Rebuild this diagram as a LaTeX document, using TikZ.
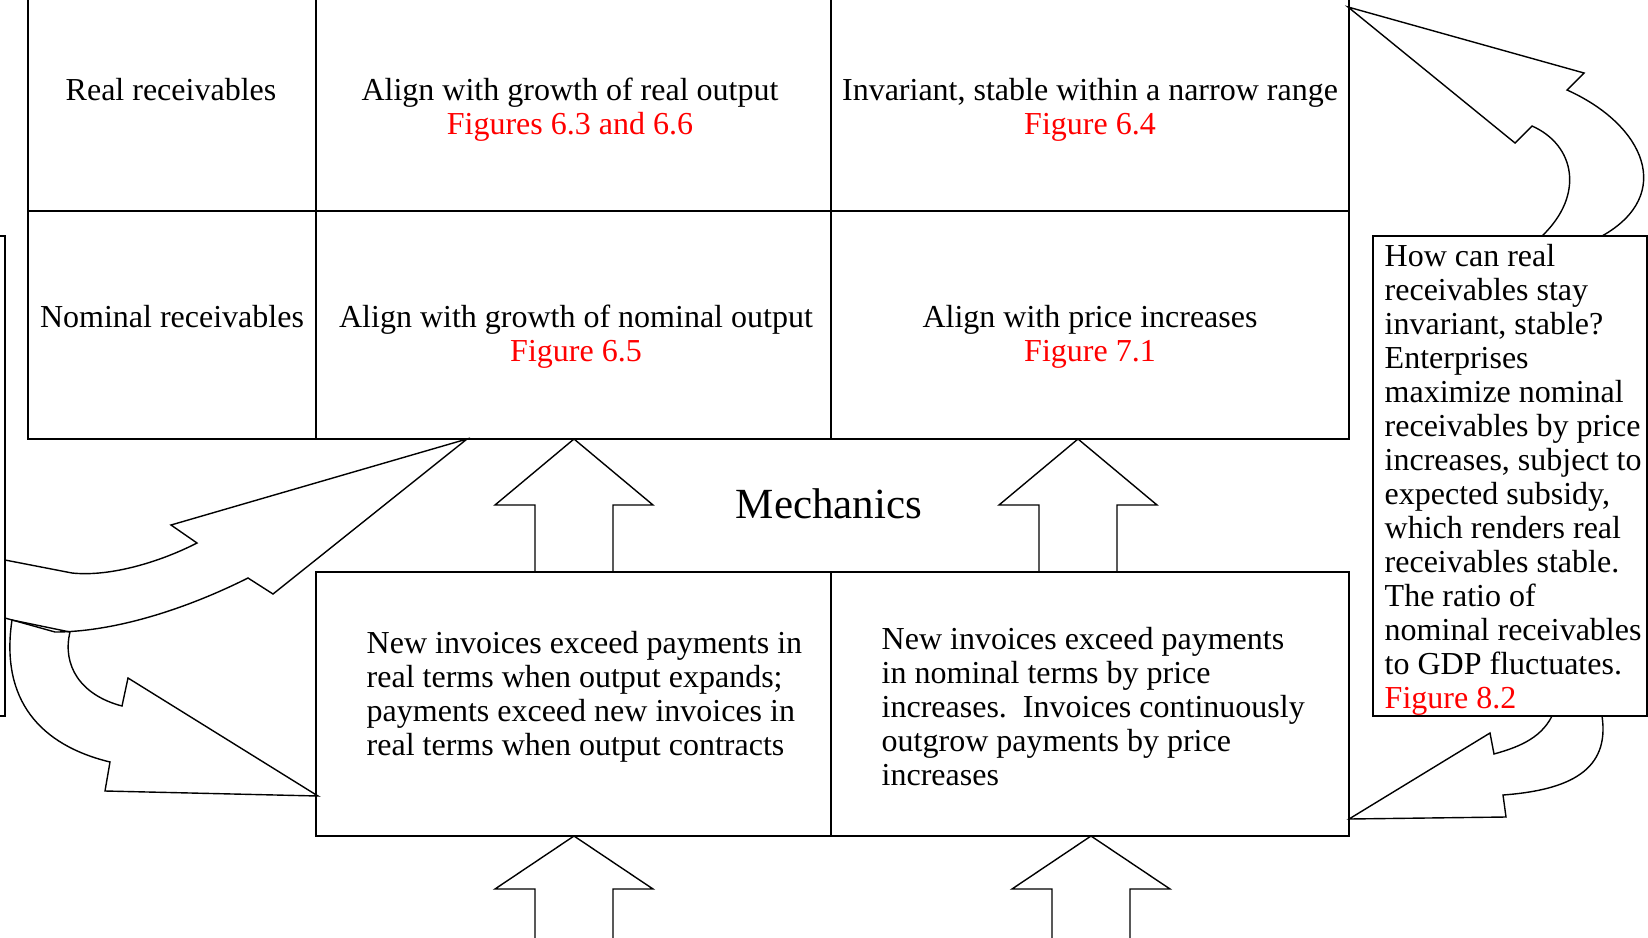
\documentclass[tikz,border=0pt]{standalone}
\usepackage{fontspec}
\setmainfont{Liberation Serif}
\tikzstyle{celltext} = [font=\fontsize{16pt}{17pt}\selectfont, inner sep=0pt, anchor=base, align=center]
\tikzstyle{boxtext} = [font=\fontsize{16pt}{17pt}\selectfont, inner sep=0pt, anchor=base west, align=left]
\newcommand{\redfig}[1]{\textcolor{red}{#1}}

\begin{document}
\begin{tikzpicture}[x=0.5pt, y=-0.5pt, line width=0.7pt]
   \useasboundingbox (0,0) rectangle (1648,937);
   \clip (0,0) rectangle (1648,937);

   % Table of real and nominal receivables
   \draw (28,-40) rectangle (1349,439);
   \draw (28,211) -- (1349,211);
   \draw (316,-40) -- (316,439);
   \draw (831,-40) -- (831,439);

   % base anchor sits on the last line
   \node[celltext] (realrec) at (171,100) {Real receivables};
   \node[celltext] (realout) at (570,134) {Align with growth of real output\\\redfig{Figures 6.3 and 6.6}};
   \node[celltext] (realinv) at (1090,134) {Invariant, stable within a narrow range\\\redfig{Figure 6.4}};
   \node[celltext] (nomrec) at (172,327) {Nominal receivables};
   \node[celltext] (nomout) at (576,361) {Align with growth of nominal output\\\redfig{Figure 6.5}};
   \node[celltext] (nomprice) at (1090,361) {Align with price increases\\\redfig{Figure 7.1}};

   \node[celltext, font=\fontsize{21.5pt}{24pt}\selectfont] (mech) at (829,518) {Mechanics};

   % Mechanics boxes
   \draw (316,572) rectangle (1349,836);
   \draw (831,572) -- (831,836);

   \node[boxtext] (realmech) at (366,755) {New invoices exceed payments in\\real terms when output expands;\\payments exceed new invoices in\\real terms when output contracts};
   \node[boxtext] (nommech) at (881,785) {New invoices exceed payments\\in nominal terms by price\\increases.\ \ Invoices continuously\\outgrow payments by price\\increases};

   % Side boxes
   \draw (-40,236) rectangle (5,716);
   \draw (1373,236) rectangle (1647,716);
   \node[boxtext] (note) at (1384,708) {How can real\\receivables stay\\invariant, stable?\\Enterprises\\maximize nominal\\receivables by price\\increases, subject to\\expected subsidy,\\which renders real\\receivables stable.\\The ratio of\\nominal receivables\\to GDP fluctuates.\\\redfig{Figure 8.2}};

   % Block arrows
   \foreach \x/\ytip/\yhead/\yend in {574/439/505/572, 1078/439/505/572, 574/836/889/960, 1091/836/889/960}
      \draw (\x-39,\yend) -- (\x-39,\yhead) -- (\x-79,\yhead) -- (\x,\ytip) -- (\x+79,\yhead) -- (\x+39,\yhead) -- (\x+39,\yend);

   % Curved arrows
   \draw (5,560) -- (72,573) .. controls (110,577) and (160,562) .. (197,543) -- (171,525) -- (467,439) -- (273,594) -- (248,578) .. controls (180,612) and (110,632) .. (55,632) -- (5,618);
   \draw (12,620) -- (70,632) .. controls (62,665) and (80,695) .. (122,706) -- (128,678) -- (318,796) -- (105,791) -- (110,762) .. controls (40,745) and (0,700) .. (12,620);
   \draw (1542,236) .. controls (1585,195) and (1575,145) .. (1532,126) -- (1515,143) -- (1348,7) -- (1584,73) -- (1567,90) .. controls (1645,125) and (1675,195) .. (1602,236);
   \draw (1552,716) .. controls (1540,740) and (1515,748) .. (1494,754) -- (1490,733) -- (1349,819) -- (1506,817) -- (1503,795) .. controls (1570,790) and (1610,770) .. (1602,716);

\end{tikzpicture}
\end{document}
